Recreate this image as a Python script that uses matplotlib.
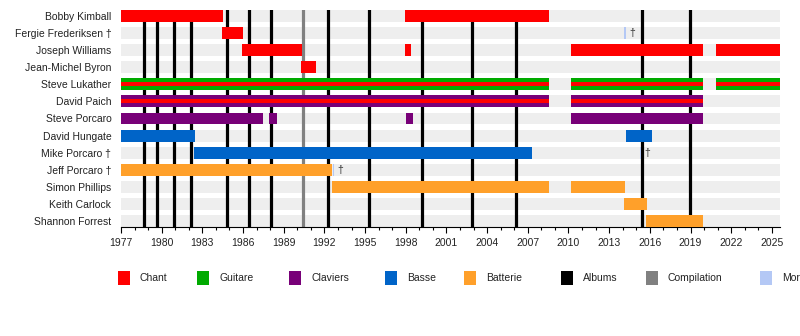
import matplotlib
matplotlib.use("Agg")
import matplotlib.pyplot as plt
from matplotlib.patches import Rectangle

plt.rcParams['font.family'] = ['Liberation Sans', 'DejaVu Sans']
NARROW = ['Liberation Sans Narrow', 'Liberation Sans', 'DejaVu Sans']

# ---------------- data ----------------
members = ["Bobby Kimball", "Fergie Frederiksen †", "Joseph Williams",
           "Jean-Michel Byron", "Steve Lukather", "David Paich",
           "Steve Porcaro", "David Hungate", "Mike Porcaro †",
           "Jeff Porcaro †", "Simon Phillips", "Keith Carlock",
           "Shannon Forrest"]

# (start, end, role, stripe-role)
bobby_kimball = [(1977.0, 1984.5, "Chant", None), (1997.94, 2008.56, "Chant", None)]
fergie_frederiksen = [(1984.47, 1986.02, "Chant", None)]
joseph_williams = [(1985.95, 1990.33, "Chant", None), (1997.94, 1998.39, "Chant", None),
                   (2010.19, 2019.9, "Chant", None), (2020.88, 2025.6, "Chant", None)]
jean_michel_byron = [(1990.27, 1991.36, "Chant", None)]
steve_lukather = [(1977.0, 2008.56, "Guitare", "Chant"), (2010.19, 2019.9, "Guitare", "Chant"),
                  (2020.88, 2025.6, "Guitare", "Chant")]
david_paich = [(1977.0, 2008.56, "Claviers", "Chant"), (2010.19, 2019.9, "Claviers", "Chant")]
steve_porcaro = [(1977.0, 1987.45, "Claviers", None), (1987.94, 1988.48, "Claviers", None),
                 (1998.0, 1998.5, "Claviers", None), (2010.19, 2019.9, "Claviers", None)]
david_hungate = [(1977.0, 1982.46, "Basse", None), (2014.24, 2016.13, "Basse", None)]
mike_porcaro = [(1982.36, 2007.29, "Basse", None)]
jeff_porcaro = [(1977.0, 1992.58, "Batterie", None)]
simon_phillips = [(1992.58, 2008.56, "Batterie", None), (2010.19, 2014.17, "Batterie", None)]
keith_carlock = [(2014.1, 2015.8, "Batterie", None)]
shannon_forrest = [(2015.7, 2019.9, "Batterie", None)]

member_spans = [bobby_kimball, fergie_frederiksen, joseph_williams, jean_michel_byron,
                steve_lukather, david_paich, steve_porcaro, david_hungate, mike_porcaro,
                jeff_porcaro, simon_phillips, keith_carlock, shannon_forrest]

death_members = ["Fergie Frederiksen †", "Mike Porcaro †", "Jeff Porcaro †"]
death_years = [2014.12, 2015.25, 1992.62]

album_years = [1978.70, 1979.65, 1980.91, 1982.16, 1984.82, 1986.44, 1988.06,
               1992.27, 1995.29, 1999.20, 2002.88, 2006.13, 2015.42, 2018.96]
compilation_years = [1990.42]

legend_labels = ["Chant", "Guitare", "Claviers", "Basse", "Batterie",
                 "Albums", "Compilation", "Mort"]
legend_colors = ["#ff0000", "#00aa00", "#780078", "#0064c8", "#ffa02a",
                 "#000000", "#808080", "#b4c8f5"]
role_colors = dict(zip(legend_labels, legend_colors))

x_start, x_end = 1977.0, 2025.6
major_ticks = list(range(1977, 2026, 3))

# ---------------- figure ----------------
W, H = 800, 336
fig = plt.figure(figsize=(W / 100, H / 100), dpi=100)
ax = fig.add_axes([121 / W, 1 - 227 / H, 659 / W, 217 / H])

h = 0.70
n = len(members)
for i in range(n):
    ax.barh(i, x_end - x_start, left=x_start, height=h, color="#eeeeee", zorder=0)

for y in album_years:
    ax.axvline(y, color=role_colors["Albums"], lw=2.3, zorder=1)
for y in compilation_years:
    ax.axvline(y, color=role_colors["Compilation"], lw=2.3, zorder=1)

for i, spans in enumerate(member_spans):
    for s, e, role, stripe in spans:
        ax.barh(i, e - s, left=s, height=h, color=role_colors[role], zorder=3, lw=0)
        if stripe:
            ax.barh(i, e - s, left=s, height=h * 0.32, color=role_colors[stripe], zorder=4, lw=0)

for name, d in zip(death_members, death_years):
    i = members.index(name)
    ax.barh(i, 0.1, left=d, height=h, color=role_colors["Mort"], zorder=5, lw=0)
    ax.text(d + 0.35, i, "†", ha="left", va="center", fontsize=7.5, color="#333333", zorder=6)

ax.set_xlim(x_start, x_end)
ax.set_ylim(n - 1 + h / 2, -h / 2)
ax.set_yticks(range(n))
ax.set_yticklabels(members, fontsize=7.5, color="#222222")
ax.tick_params(axis="y", length=0, pad=7)

ax.set_xticks(major_ticks)
ax.set_xticklabels([str(t) for t in major_ticks], fontsize=7.5, family=NARROW, color="#222222")
ax.set_xticks(list(range(1977, 2026)), minor=True)
ax.tick_params(axis="x", which="major", length=4, width=0.8, pad=4)
ax.tick_params(axis="x", which="minor", length=2.2, width=0.8)

for sp in ["top", "left", "right"]:
    ax.spines[sp].set_visible(False)
ax.spines["bottom"].set_linewidth(0.8)

# legend
leg_x = [118, 197, 289, 385, 464, 561, 646, 760]
leg_y = 278
for x, lab, col in zip(leg_x, legend_labels, legend_colors):
    fig.patches.append(Rectangle((x / W, 1 - (leg_y + 7) / H), 12 / W, 14 / H,
                                 transform=fig.transFigure, color=col, lw=0))
    fig.text((x + 22) / W, 1 - leg_y / H, lab, ha="left", va="center",
             fontsize=7.5, family=NARROW, color="#222222")

fig.savefig("out.png", dpi=100)
